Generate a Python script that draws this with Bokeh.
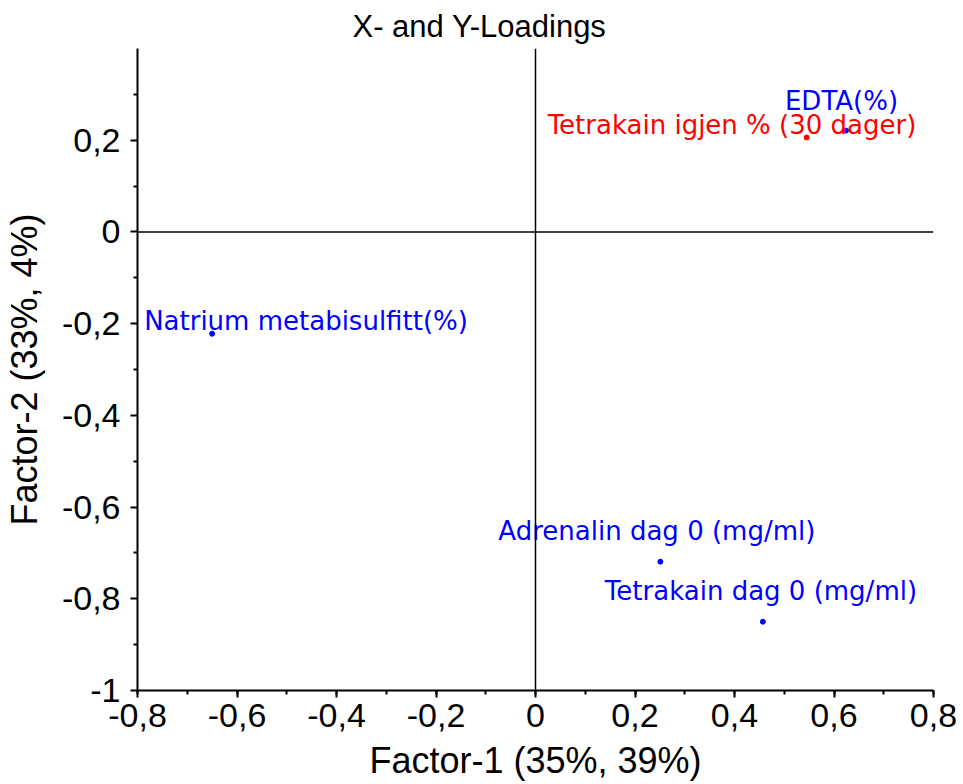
from bokeh.plotting import figure
from bokeh.models import (ColumnDataSource, Range1d, Span, FixedTicker,
                          SingleIntervalTicker, CustomJSTickFormatter)
from bokeh.core.properties import value
from bokeh.embed import file_html
from bokeh.resources import INLINE

# Loadings on the first two factors
variables = ["EDTA(%)", "Tetrakain igjen % (30 dager)", "Natrium metabisulfitt(%)",
             "Adrenalin dag 0 (mg/ml)", "Tetrakain dag 0 (mg/ml)"]
factor1 = [0.624, 0.545, -0.650, 0.251, 0.457]
factor2 = [0.221, 0.206, -0.222, -0.719, -0.850]
colors = ["#0000FF", "#FF0000", "#0000FF", "#0000FF", "#0000FF"]

y_ticks = [-1.0, -0.8, -0.6, -0.4, -0.2, 0, 0.2]
y_minor = [-0.9, -0.7, -0.5, -0.3, -0.1, 0.1, 0.3]

# pixel offsets of each label's left/baseline corner from its point
label_dx = [-61, -259, -68, -162, -158]
label_dy = [-30, -12, -13, -31, -31]

src = ColumnDataSource(dict(x=factor1, y=factor2, name=variables, color=colors,
                            dx=label_dx, dy=label_dy))

p = figure(width=963, height=784, output_backend="svg", toolbar_location=None,
           x_range=Range1d(-0.8, 0.8), y_range=Range1d(-1.0, 0.4),
           min_border_left=135, min_border_right=30, min_border_top=48,
           min_border_bottom=94)
p.outline_line_color = None
p.xgrid.visible = False
p.ygrid.visible = False
p.background_fill_color = "white"
p.border_fill_color = "white"

p.title.text = "X- and Y-Loadings"
p.title.align = "left"
p.title.offset = 215
p.title.standoff = 10
p.title.text_font = "Liberation Sans"
p.title.text_font_size = "31px"
p.title.text_font_style = "normal"
p.title.text_color = "black"

fmt = CustomJSTickFormatter(code="return (Math.round(tick*10)/10).toString().replace('.', ',');")

p.xaxis.ticker = SingleIntervalTicker(interval=0.2, num_minor_ticks=2)
p.yaxis.ticker = FixedTicker(ticks=y_ticks, minor_ticks=y_minor)
for ax in (p.xaxis[0], p.yaxis[0]):
    ax.formatter = fmt
    ax.axis_line_color = "black"
    ax.axis_line_width = 2
    ax.major_tick_line_color = "black"
    ax.minor_tick_line_color = "black"
    ax.major_tick_line_width = 2
    ax.minor_tick_line_width = 2
    ax.major_tick_in = 0
    ax.major_tick_out = 7
    ax.minor_tick_in = 0
    ax.minor_tick_out = 4
    ax.major_label_text_font = "Liberation Sans"
    ax.major_label_text_font_size = "34px"
    ax.major_label_text_color = "black"
    ax.axis_label_text_font = "Liberation Sans"
    ax.axis_label_text_font_size = "36px"
    ax.axis_label_text_font_style = "normal"
    ax.axis_label_text_color = "black"

p.xaxis.axis_label = "Factor-1 (35%, 39%)"
p.yaxis.axis_label = "Factor-2 (33%, 4%)"
p.xaxis.major_label_standoff = 6
p.yaxis.major_label_standoff = 10
p.xaxis.axis_label_standoff = 10
p.yaxis.axis_label_standoff = 14

# zero lines through the origin
p.add_layout(Span(location=0, dimension="width", line_color="black", line_width=1.5))
p.add_layout(Span(location=0, dimension="height", line_color="black", line_width=1.5))

p.scatter("x", "y", source=src, size=5, color="color", line_color="color")
p.text("x", "y", text="name", source=src, text_color="color",
       x_offset="dx", y_offset="dy", text_align="left", text_baseline="alphabetic",
       text_font=value("DejaVu Sans"), text_font_size="26px")

open("out.html", "w").write(file_html(p, INLINE))
